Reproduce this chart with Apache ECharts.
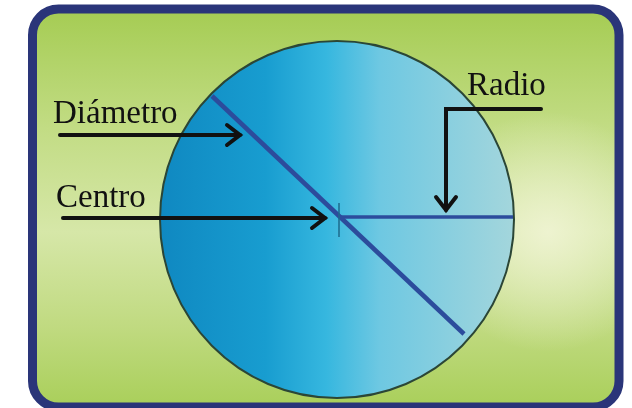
<!DOCTYPE html>
<html>
<head>
<meta charset="utf-8">
<script src="https://cdn.jsdelivr.net/npm/echarts@6/dist/echarts.min.js"></script>
<style>
  html, body { margin: 0; padding: 0; background: #fff; }
  #circulo { width: 632px; height: 408px; }
</style>
</head>
<body>
<div id="circulo"></div>
<script>
  // diagram data, in picture coordinates (x right, y down)
  var circle = [[337, 219.5, 177, 178.5]]
  var diameter = [[212, 96], [464, 334]]
  var radius = [[339, 217], [513, 217]]
  var centerTick = [[339, 203], [339, 237]]
  var labels = ['Diámetro', 'Centro', 'Radio']
  var labelPos = [[53, 125], [56, 209], [467, 97]] // text baselines
  var arrows = [
    [[60, 135], [240, 135]],
    [[63, 218], [325, 218]],
    [[541, 109], [446, 109], [446, 210]]
  ]

  var chart = echarts.init(document.getElementById('circulo'))

  var fontSize = 33
  var frame = { x: 32.5, y: 9, width: 586.5, height: 398, r: 26 }

  var option = {
    animation: false,
    grid: { left: 0, right: 0, top: 0, bottom: 0 },
    xAxis: { type: 'value', min: 0, max: 632, show: false },
    yAxis: { type: 'value', min: 0, max: 408, inverse: true, show: false },
    graphic: [{
      type: 'rect',
      z: -12,
      shape: frame,
      style: {
        fill: {
          type: 'linear', x: 0, y: 0, x2: 0, y2: 1,
          colorStops: [
            { offset: 0, color: '#a5cc53' },
            { offset: 0.3, color: '#c2dc84' },
            { offset: 0.56, color: '#d6e7a8' },
            { offset: 0.8, color: '#c0da80' },
            { offset: 1, color: '#a9cf5a' }
          ]
        }
      }
    }, {
      type: 'rect',
      z: -11,
      shape: frame,
      style: {
        fill: {
          type: 'radial', x: 548, y: 232, r: 120, global: true,
          colorStops: [
            { offset: 0, color: 'rgba(240,244,212,0.9)' },
            { offset: 1, color: 'rgba(240,244,212,0)' }
          ]
        }
      }
    }, {
      type: 'rect',
      z: -10,
      shape: frame,
      style: { fill: null, stroke: '#2a3579', lineWidth: 9 }
    }],
    series: [{
      type: 'custom',
      data: circle,
      renderItem: function (params, api) {
        var c = api.coord([api.value(0), api.value(1)])
        var s = api.size([api.value(2), api.value(3)])
        return {
          type: 'ellipse',
          shape: { cx: c[0], cy: c[1], rx: s[0], ry: s[1] },
          style: {
            fill: {
              type: 'linear', x: 0, y: 0, x2: 1, y2: 0,
              colorStops: [
                { offset: 0, color: '#0f88c1' },
                { offset: 0.3, color: '#189dd0' },
                { offset: 0.47, color: '#36b7df' },
                { offset: 0.62, color: '#6ec8e2' },
                { offset: 1, color: '#a4d6dc' }
              ]
            },
            stroke: '#2b4636',
            lineWidth: 2
          }
        }
      }
    }, {
      type: 'line',
      data: diameter,
      showSymbol: false,
      lineStyle: { color: '#2c4c9c', width: 4.5 }
    }, {
      type: 'line',
      data: radius,
      showSymbol: false,
      lineStyle: { color: '#2c4c9c', width: 3.5 }
    }, {
      type: 'line',
      data: centerTick,
      showSymbol: false,
      lineStyle: { color: '#1d6a8c', width: 1.5 }
    }, {
      type: 'custom',
      data: arrows.map(function (a, i) { return [i] }),
      renderItem: function (params, api) {
        var pts = arrows[params.dataIndex].map(function (p) { return api.coord(p) })
        var n = pts.length
        var tip = pts[n - 1]
        var prev = pts[n - 2]
        var dx = tip[0] - prev[0]
        var dy = tip[1] - prev[1]
        var len = Math.sqrt(dx * dx + dy * dy)
        dx /= len
        dy /= len
        var back = 13
        var half = 10
        var head = [
          [tip[0] - back * dx - half * dy, tip[1] - back * dy + half * dx],
          tip,
          [tip[0] - back * dx + half * dy, tip[1] - back * dy - half * dx]
        ]
        var st = { fill: null, stroke: '#111', lineWidth: 4, lineJoin: 'miter', lineCap: 'round' }
        return {
          type: 'group',
          children: [
            { type: 'polyline', shape: { points: pts }, style: st },
            { type: 'polyline', shape: { points: head }, style: st }
          ]
        }
      }
    }, {
      type: 'custom',
      data: labelPos,
      renderItem: function (params, api) {
        var p = api.coord([api.value(0), api.value(1)])
        return {
          type: 'text',
          x: p[0],
          // text is placed by its top edge, move up from the baseline
          y: p[1] - fontSize * 0.81,
          style: {
            text: labels[params.dataIndex],
            font: fontSize + 'px "Liberation Serif", serif',
            fill: '#111',
            textAlign: 'left',
            textVerticalAlign: 'top'
          }
        }
      }
    }]
  }

  chart.setOption(option)
</script>
</body>
</html>
